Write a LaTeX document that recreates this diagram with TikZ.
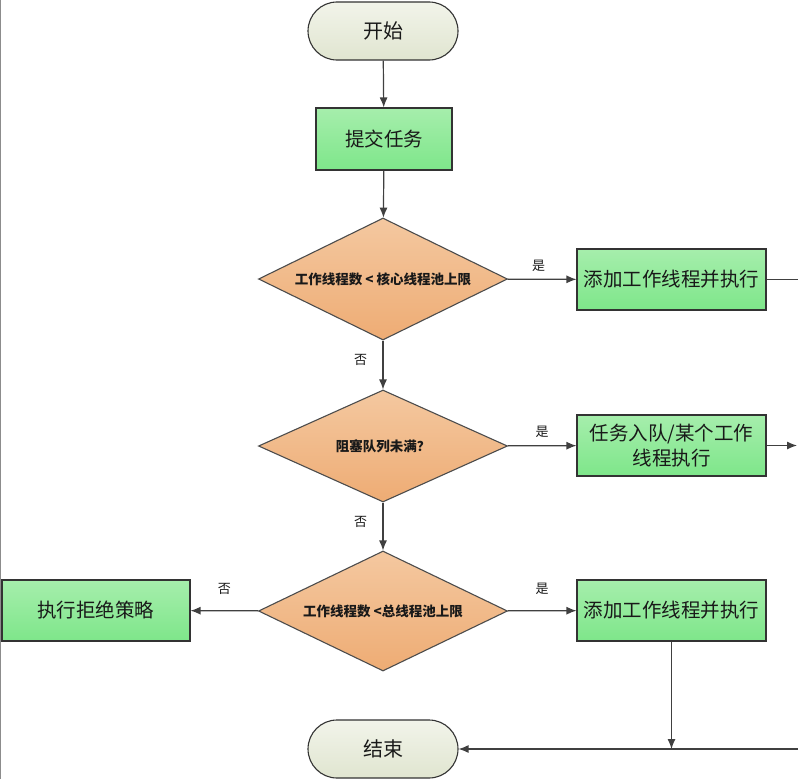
\documentclass[tikz,border=0pt]{standalone}
\usepackage{fontspec}
\newfontfamily\cjk{Noto Sans CJK SC}
\usetikzlibrary{shapes.geometric,arrows.meta}
\begin{document}
\begin{tikzpicture}[x=1pt,y=-1pt,
  base/.style={draw=black!80, line width=1.1pt, font=\cjk, text=black!90},
  term/.style={base, rounded corners=29pt, minimum width=150pt, minimum height=58pt, top color={rgb,255:red,242;green,244;blue,234}, bottom color={rgb,255:red,224;green,229;blue,208}, font=\cjk\fontsize{20}{22}\selectfont},
  proc/.style={base, rectangle, minimum width=189pt, minimum height=61pt, top color={rgb,255:red,166;green,238;blue,172}, bottom color={rgb,255:red,126;green,230;blue,138}, font=\cjk\fontsize{19.5}{25}\selectfont, align=center, inner sep=0pt},
  decide/.style={base, diamond, aspect=2.1, minimum width=249pt, inner sep=0pt, top color={rgb,255:red,244;green,200;blue,160}, bottom color={rgb,255:red,238;green,172;blue,116}, draw=black!70, font=\cjk\bfseries\fontsize{13.5}{16}\selectfont},
  lbl/.style={font=\cjk\fontsize{13}{15}\selectfont, text=black!90},
  conn/.style={draw=black!75, line width=1.2pt},
  arr/.style={conn, -{Latex[length=10pt,width=8pt]}}
]
\useasboundingbox (0,0) rectangle (798,779);
\fill[white] (0,0) rectangle (798,779);
\draw[black!45, line width=1.2pt] (0.6,0) -- (0.6,779);

\node[term] (start) at (383,31) {开始};
\node[proc, minimum width=136pt, minimum height=62pt] (submit) at (384,139) {提交任务};
\node[decide, minimum height=122pt] (d1) at (383,279) {工作线程数 < 核心线程池上限};
\node[proc] (add1) at (671.5,279.5) {添加工作线程并执行};
\node[decide, minimum height=112pt] (d2) at (383,446) {阻塞队列未满？};
\node[proc] (queue) at (671.5,445.5) {任务入队/某个工作\\线程执行};
\node[decide, minimum height=120pt] (d3) at (383,611) {工作线程数 <总线程池上限};
\node[proc] (add2) at (671.5,610.5) {添加工作线程并执行};
\node[proc, minimum width=188pt] (reject) at (96,610.5) {执行拒绝策略};
\node[term] (end) at (383,749) {结束};

\coordinate (e1) at (798,279.5);
\coordinate (e2) at (797,445.5);
\coordinate (e3) at (798,749);
\coordinate (j) at (671.5,749);

\draw[arr] (start) -- (submit);
\draw[arr] (submit) -- (d1);
\draw[arr] (d1) -- node[lbl, above=4pt, pos=0.45] {是} (add1);
\draw[conn] (add1) -- (e1);
\draw[arr] (d1) -- node[lbl, left=12pt, pos=0.4] {否} (d2);
\draw[arr] (d2) -- node[lbl, above=4pt, pos=0.5] {是} (queue);
\draw[arr] (queue) -- (e2);
\draw[arr] (d2) -- node[lbl, left=12pt, pos=0.4] {否} (d3);
\draw[arr] (d3) -- node[lbl, above=12pt, pos=0.5] {是} (add2);
\draw[arr] (d3) -- node[lbl, above=12pt, pos=0.5] {否} (reject);
\draw[arr] (add2) -- (j);
\draw[arr] (e3) -- (end);
\end{tikzpicture}
\end{document}
